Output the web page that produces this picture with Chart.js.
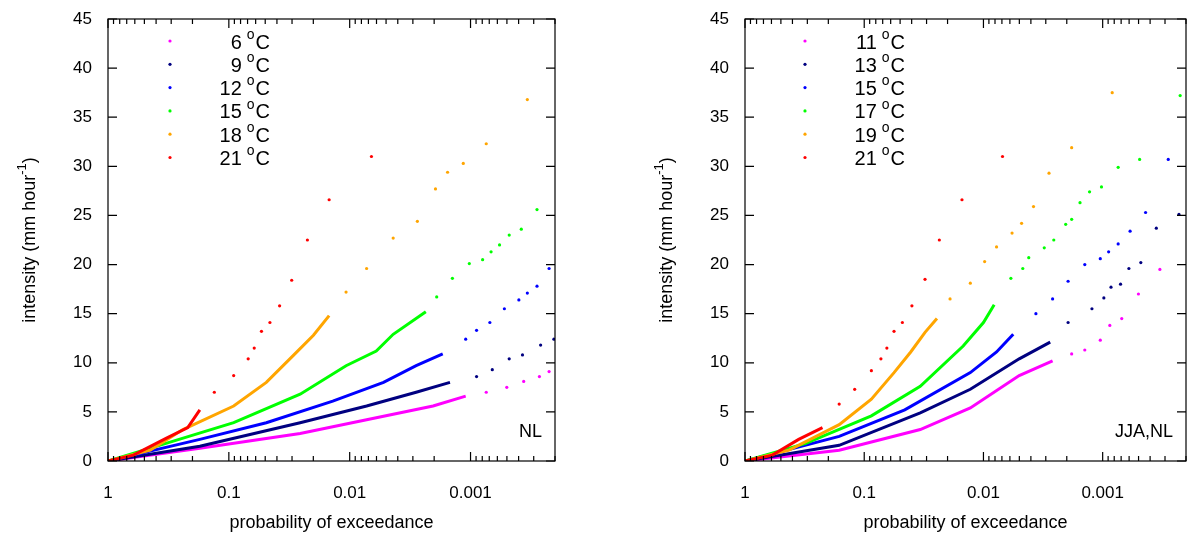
<!DOCTYPE html>
<html>
<head>
<meta charset="utf-8">
<script src="https://cdn.jsdelivr.net/npm/chart.js@4"></script>
<style>
  body { margin: 0; background: #fff; }
  .wrap { display: flex; width: 1190px; height: 540px; }
  .panel { position: relative; width: 595px; height: 540px; }
</style>
</head>
<body>
<div class="wrap">
  <div class="panel"><canvas id="left"></canvas></div>
  <div class="panel"><canvas id="right"></canvas></div>
</div>
<script>
// x values are decades below 1 (probability = 10^-d), y values in mm/hour
const colors = ['#ff00ff', '#000080', '#0000ff', '#00ff00', '#ffa500', '#ff0000'];
const xTicks = [1, 0.1, 0.01, 0.001];
const xTickLabels = ['1', '0.1', '0.01', '0.001'];
const yTicks = [0, 5, 10, 15, 20, 25, 30, 35, 40, 45];

// Left panel: NL
const leftTemps = ['6', '9', '12', '15', '18', '21'];
const leftDec = [
  [0, 0.76, 1.59, 2.14, 2.69, 2.96, 3.13, 3.30, 3.44, 3.57, 3.65],
  [0, 0.76, 1.59, 2.14, 2.55, 2.83, 3.05, 3.18, 3.32, 3.43, 3.58, 3.69],
  [0, 0.76, 1.31, 1.86, 2.28, 2.55, 2.77, 2.96, 3.05, 3.16, 3.28, 3.40, 3.47, 3.55, 3.65],
  [0, 0.48, 1.04, 1.59, 1.97, 2.22, 2.36, 2.63, 2.72, 2.85, 2.99, 3.10, 3.17, 3.24, 3.32, 3.42, 3.55],
  [0, 0.35, 0.62, 1.04, 1.31, 1.53, 1.70, 1.83, 1.97, 2.14, 2.36, 2.56, 2.71, 2.81, 2.94, 3.13, 3.47],
  [0, 0.21, 0.48, 0.66, 0.76, 0.88, 1.04, 1.16, 1.21, 1.27, 1.34, 1.42, 1.52, 1.65, 1.83, 2.18]
];
const leftVal = [
  [0, 1.3, 2.8, 4.2, 5.6, 6.6, 7.0, 7.5, 8.1, 8.6, 9.1],
  [0, 1.5, 3.9, 5.6, 7.0, 8.0, 8.6, 9.3, 10.4, 10.8, 11.8, 12.4],
  [0, 2.2, 3.9, 6.1, 8.0, 9.7, 10.9, 12.4, 13.3, 14.1, 15.5, 16.4, 17.1, 17.8, 19.6],
  [0, 1.8, 3.9, 6.8, 9.7, 11.2, 12.9, 15.2, 16.7, 18.6, 20.1, 20.5, 21.3, 22.0, 23.0, 23.6, 25.6],
  [0, 1.1, 3.2, 5.6, 8.0, 10.7, 12.8, 14.8, 17.2, 19.6, 22.7, 24.4, 27.7, 29.4, 30.3, 32.3, 36.8],
  [0, 0.6, 2.3, 3.4, 5.2, 7.0, 8.7, 10.4, 11.5, 13.2, 14.1, 15.8, 18.4, 22.5, 26.6, 31.0]
];
const leftSolidTo = [2.96, 2.83, 2.77, 2.63, 1.83, 0.76];

// Right panel: JJA, NL
const rightTemps = ['11', '13', '15', '17', '19', '21'];
const rightDec = [
  [0, 0.79, 1.47, 1.89, 2.30, 2.58, 2.74, 2.85, 2.98, 3.06, 3.16, 3.30, 3.48],
  [0, 0.79, 1.47, 1.89, 2.30, 2.56, 2.71, 2.91, 3.01, 3.07, 3.15, 3.22, 3.32, 3.45, 3.64],
  [0, 0.79, 1.34, 1.89, 2.11, 2.25, 2.44, 2.58, 2.71, 2.85, 2.98, 3.05, 3.13, 3.23, 3.36, 3.55],
  [0, 0.51, 1.06, 1.47, 1.83, 2.00, 2.09, 2.23, 2.33, 2.38, 2.51, 2.59, 2.69, 2.74, 2.81, 2.89, 2.99, 3.13, 3.31, 3.65],
  [0, 0.37, 0.79, 1.06, 1.25, 1.39, 1.51, 1.61, 1.72, 1.89, 2.01, 2.11, 2.24, 2.32, 2.42, 2.55, 2.74, 3.08],
  [0, 0.23, 0.45, 0.65, 0.79, 0.92, 1.06, 1.14, 1.19, 1.25, 1.32, 1.40, 1.51, 1.63, 1.82, 2.16]
];
const rightVal = [
  [0, 1.1, 3.2, 5.4, 8.7, 10.2, 10.9, 11.3, 12.3, 13.8, 14.5, 17.0, 19.5],
  [0, 1.6, 4.9, 7.3, 10.4, 12.1, 14.1, 15.5, 16.6, 17.7, 18.0, 19.6, 20.2, 23.7, 25.1],
  [0, 2.5, 5.2, 9.0, 11.1, 12.9, 15.0, 16.5, 18.3, 20.0, 20.6, 21.3, 22.1, 23.4, 25.3, 30.7],
  [0, 1.8, 4.6, 7.6, 11.7, 14.1, 15.9, 18.6, 19.6, 20.7, 21.7, 22.5, 24.1, 24.6, 26.3, 27.4, 27.9, 29.9, 30.7, 37.2],
  [0, 1.1, 3.7, 6.3, 9.0, 11.1, 13.1, 14.5, 16.5, 18.1, 20.3, 21.8, 23.2, 24.2, 25.9, 29.3, 31.9, 37.5],
  [0, 0.6, 2.2, 3.4, 5.8, 7.3, 9.2, 10.4, 11.5, 13.2, 14.1, 15.8, 18.5, 22.5, 26.6, 31.0]
];
const rightSolidTo = [2.58, 2.56, 2.25, 2.09, 1.61, 0.65];

function buildDatasets(decs, vals, solidTo) {
  const sets = [];
  decs.forEach((d, i) => {
    const pts = d.map((x, j) => ({ x: Math.pow(10, -x), y: vals[i][j], d: x }));
    sets.push({
      data: pts.filter(p => p.d <= solidTo[i]),
      showLine: true, borderColor: colors[i], backgroundColor: colors[i],
      borderWidth: 3, pointRadius: 0, order: 6 - i
    });
    sets.push({
      data: pts.filter(p => p.d > solidTo[i]),
      showLine: false, borderColor: colors[i], backgroundColor: colors[i],
      pointRadius: 1.6, pointBorderWidth: 0, order: 6 - i
    });
  });
  return sets;
}

function decorPlugin(temps, tag, legendX) {
  return {
    id: 'decor',
    afterDraw(chart) {
      const ctx = chart.ctx, a = chart.chartArea;
      const xs = chart.scales.x, ys = chart.scales.y;
      ctx.save();
      ctx.strokeStyle = '#000'; ctx.lineWidth = 1.2;
      ctx.strokeRect(a.left, a.top, a.right - a.left, a.bottom - a.top);
      ctx.beginPath();
      yTicks.forEach(v => {
        const y = ys.getPixelForValue(v);
        ctx.moveTo(a.left, y); ctx.lineTo(a.left + 9, y);
        ctx.moveTo(a.right, y); ctx.lineTo(a.right - 9, y);
      });
      for (let e = 0; e >= -4; e--) {
        for (let m = 1; m < 10; m++) {
          const v = m * Math.pow(10, e);
          if (v < xs.min || v > xs.max) continue;
          const x = xs.getPixelForValue(v);
          const len = m === 1 ? 9 : 5;
          ctx.moveTo(x, a.bottom); ctx.lineTo(x, a.bottom - len);
          ctx.moveTo(x, a.top); ctx.lineTo(x, a.top + len);
        }
      }
      ctx.stroke();
      // legend
      temps.forEach((t, i) => {
        const y = 41 + i * 23.3;
        ctx.fillStyle = colors[i];
        ctx.beginPath(); ctx.arc(legendX, y, 1.6, 0, Math.PI * 2); ctx.fill();
        ctx.fillStyle = '#000';
        ctx.font = '20px "Liberation Sans", Arial, sans-serif';
        ctx.textBaseline = 'middle';
        ctx.textAlign = 'right';
        const cw = ctx.measureText('C').width;
        ctx.fillText('C', legendX + 100, y + 2);
        ctx.font = '14px "Liberation Sans", Arial, sans-serif';
        ctx.fillText('o', legendX + 100 - cw - 1, y - 6);
        const ow = ctx.measureText('o').width;
        ctx.font = '20px "Liberation Sans", Arial, sans-serif';
        ctx.fillText(t, legendX + 100 - cw - ow - 6, y + 2);
      });
      // tag
      ctx.font = '18px "Liberation Sans", Arial, sans-serif';
      ctx.textAlign = 'right';
      ctx.fillText(tag, a.right - 13, 432);
      // axis titles
      ctx.textAlign = 'center';
      ctx.fillText('probability of exceedance', (a.left + a.right) / 2, 523);
      ctx.translate(a.left - 78, (a.top + a.bottom) / 2);
      ctx.rotate(-Math.PI / 2);
      const main = 'intensity (mm hour';
      const w1 = ctx.measureText(main).width;
      ctx.font = '13px "Liberation Sans", Arial, sans-serif';
      const w2 = ctx.measureText('-1').width;
      ctx.font = '18px "Liberation Sans", Arial, sans-serif';
      const w3 = ctx.measureText(')').width;
      const start = -(w1 + w2 + w3) / 2;
      ctx.textAlign = 'left';
      ctx.fillText(main, start, 0);
      ctx.fillText(')', start + w1 + w2, 0);
      ctx.font = '13px "Liberation Sans", Arial, sans-serif';
      ctx.fillText('-1', start + w1, -8);
      ctx.restore();
    }
  };
}

function makeChart(id, decs, vals, solidTo, temps, tag, plotLeft, padRight, legendX) {
  return new Chart(document.getElementById(id), {
    type: 'scatter',
    data: { datasets: buildDatasets(decs, vals, solidTo) },
    options: {
      responsive: true, maintainAspectRatio: false, animation: false,
      layout: { padding: { left: 0, right: padRight, top: 19, bottom: 0 } },
      plugins: { legend: { display: false }, tooltip: { enabled: false } },
      scales: {
        x: {
          type: 'logarithmic', reverse: true, min: 0.0002, max: 1,
          afterBuildTicks: s => { s.ticks = xTicks.map(v => ({ value: v })); },
          afterFit: s => { s.height = 79; },
          grid: { display: false }, border: { display: false },
          ticks: {
            color: '#000', padding: 14, maxRotation: 0,
            font: { size: 17, family: '"Liberation Sans", Arial, sans-serif' },
            callback: (v) => xTickLabels[xTicks.indexOf(v)] ?? ''
          }
        },
        y: {
          min: 0, max: 45,
          afterBuildTicks: s => { s.ticks = yTicks.map(v => ({ value: v })); },
          afterFit: s => { s.width = plotLeft; },
          grid: { display: false }, border: { display: false },
          ticks: {
            color: '#000', padding: 8,
            font: { size: 17, family: '"Liberation Sans", Arial, sans-serif' }
          }
        }
      }
    },
    plugins: [decorPlugin(temps, tag, legendX)]
  });
}

makeChart('left', leftDec, leftVal, leftSolidTo, leftTemps, 'NL', 108, 40, 170);
makeChart('right', rightDec, rightVal, rightSolidTo, rightTemps, 'JJA,NL', 150, 1, 210);
</script>
</body>
</html>
